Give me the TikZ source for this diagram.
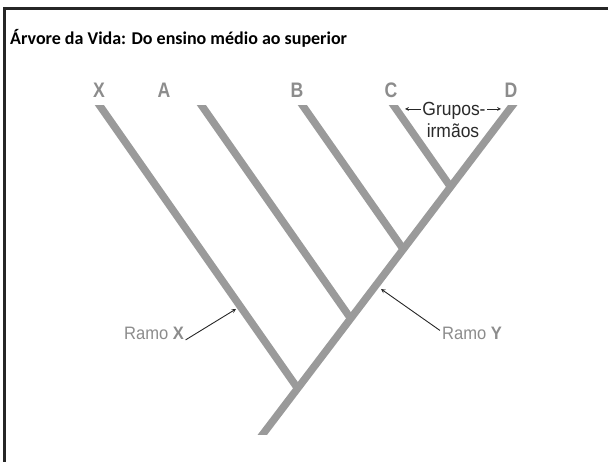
\documentclass[tikz,border=0pt]{standalone}
\usepackage{fontspec}
\setmainfont{Carlito}
\newfontfamily\labfont[FakeStretch=0.84]{Liberation Sans}
\newfontfamily\notafont[FakeStretch=0.92]{Liberation Sans}
\usetikzlibrary{arrows,calc}
\definecolor{ramo}{HTML}{9A9A9A}
\definecolor{rotulo}{HTML}{8C8C8C}
\definecolor{texto}{HTML}{2A2A2A}

\begin{document}
\begin{tikzpicture}[
            x = 1pt, y = -1pt, % pixel grid, y pointing down
            > = stealth, % arrow head style
            galho/.style = {draw=ramo, line width=7.5pt},
            letra/.style = {anchor=base, inner sep=0pt, text=rotulo,
                            font=\labfont\bfseries\fontsize{21}{21}\selectfont},
            legenda/.style = {anchor=base, inner sep=0pt, text=rotulo,
                              font=\notafont\fontsize{18}{18}\selectfont},
            nota/.style = {anchor=base, inner sep=0pt, text=texto,
                           font=\notafont\fontsize{19}{19}\selectfont},
            seta/.style = {->, black!85, line width=0.9pt}
        ]

	\useasboundingbox (0,0) rectangle (608,462);

	% frame and title
	\draw[line width=2.5pt, black!85] (608,8.5) -- (4.5,8.5) -- (4.5,462);
	\node[anchor=base west, inner sep=0pt, font=\bfseries\fontsize{18}{18}\selectfont]
		(titulo) at (10,45) {Árvore da Vida: Do ensino médio ao superior};

	% tips of the tree and the root
	\coordinate (topX) at (100,106);
	\coordinate (topA) at (202,106);
	\coordinate (topB) at (303,106);
	\coordinate (topC) at (394,106);
	\coordinate (topD) at (512,106);
	\coordinate (raiz) at (263,434);

	% branching points on the trunk
	\coordinate (jX) at (297.7,388.4);
	\coordinate (jA) at (350.7,318.5);
	\coordinate (jB) at (403.3,249.2);
	\coordinate (jC) at (450.6,186.9);

	\begin{scope}
		\clip (0,106) rectangle (608,434);
		\draw[galho] ($(topD)!1.05!(raiz)$) -- ($(raiz)!1.05!(topD)$);
		\draw[galho] (jX) -- ($(jX)!1.1!(topX)$);
		\draw[galho] (jA) -- ($(jA)!1.1!(topA)$);
		\draw[galho] (jB) -- ($(jB)!1.1!(topB)$);
		\draw[galho] (jC) -- ($(jC)!1.15!(topC)$);
	\end{scope}

	% labels of the tips
	\node[letra] (labX) at (99,98) {X};
	\node[letra] (labA) at (164,98) {A};
	\node[letra] (labB) at (297,98) {B};
	\node[letra] (labC) at (391,98) {C};
	\node[letra] (labD) at (511,98) {D};

	% sister groups
	\node[nota] (grupos) at (454,116) {Grupos-};
	\node[nota] (irmaos) at (453,137.7) {irmãos};
	\coordinate (gesq) at (405,109);
	\coordinate (gdir) at (501,109);
	\draw[seta, line width=0.7pt] ([xshift=-1.5pt]grupos.west |- gesq) -- (gesq);
	\draw[seta, line width=0.7pt] ([xshift=1.5pt]grupos.east |- gdir) -- (gdir);

	% branch labels
	\node[legenda] (ramoX) at (154,340) {Ramo \textbf{X}};
	\node[legenda] (ramoY) at (472,340) {Ramo \textbf{Y}};
	\coordinate (pX) at (236,309);
	\coordinate (pY) at (381,289);
	\draw[seta] ([shift={(1.5pt,-6pt)}]ramoX.east) -- (pX);
	\draw[seta] ([shift={(-2pt,-3pt)}]ramoY.north west) -- (pY);

\end{tikzpicture}
\end{document}
